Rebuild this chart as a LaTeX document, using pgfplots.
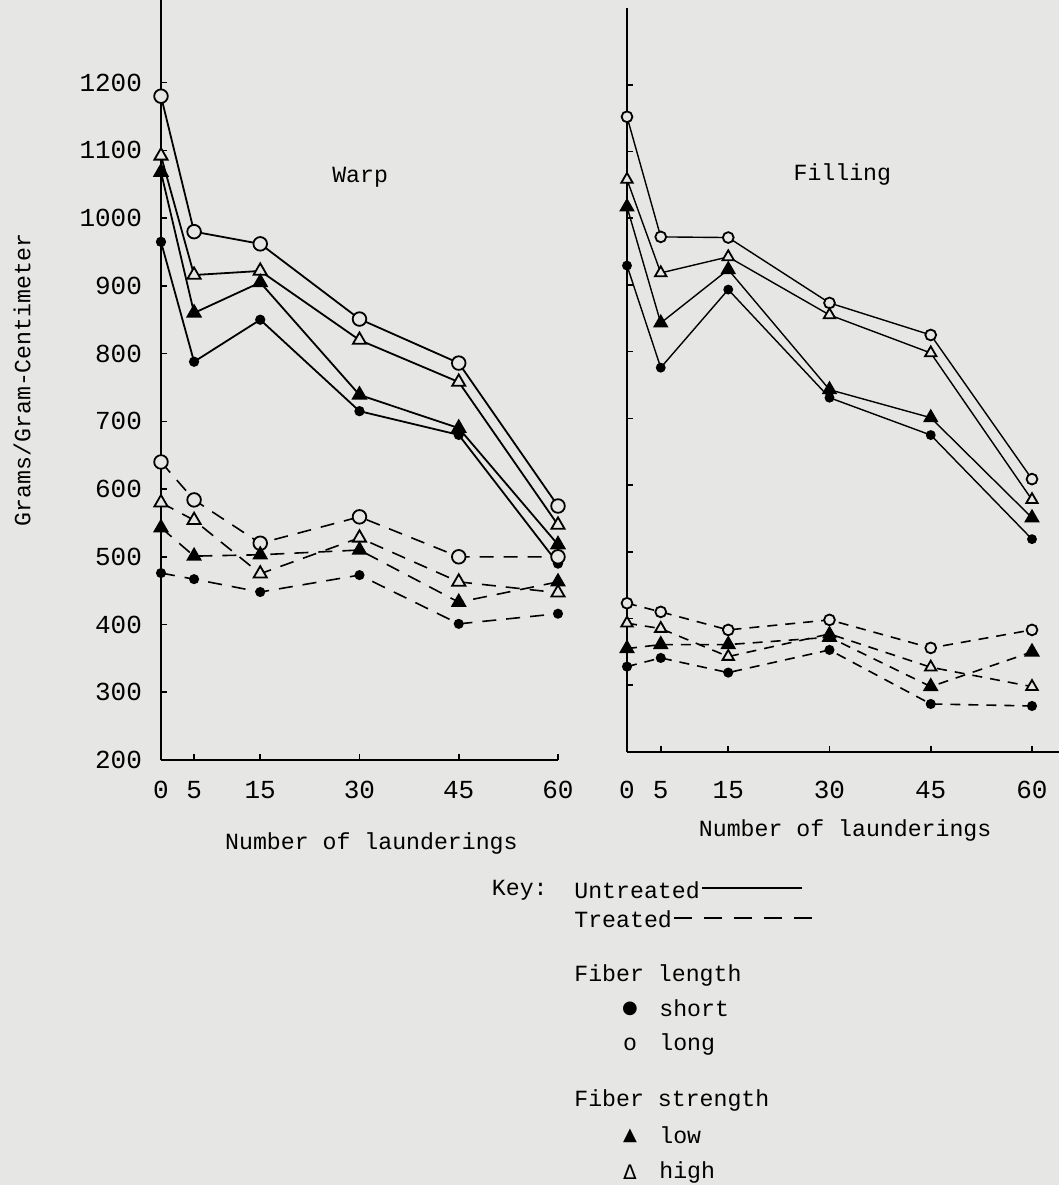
\documentclass[border=0pt]{standalone}
\usepackage{fontspec}
\setmainfont{Liberation Mono}
\newfontfamily\symfont{DejaVu Sans}
\usepackage{pgfplots}
\pgfplotsset{compat=1.18}
\definecolor{paper}{HTML}{E6E6E4}

\pgfplotsset{
  panel/.style={
    scale only axis, axis lines=left,
    axis line style={line width=1.1pt, -},
    tick align=inside, major tick length=3pt,
    tick style={black, line width=0.8pt},
    xtick={0,5,15,30,45,60}, ytick={200,300,...,1200},
    xmin=0, ymin=200,
    /pgf/number format/assume math mode=true,
    /pgf/number format/1000 sep={},
    tick label style={font=\fontsize{13}{15}\selectfont},
    label style={font=\fontsize{11.6}{14}\selectfont},
    clip=false,
  },
  untr/.style={black, line width=0.9pt},
  trt/.style={black, line width=0.8pt, dash pattern=on 7pt off 5pt},
  short/.style={mark=*, mark size=2.1pt, mark options={solid}},
  long/.style={mark=*, mark size=3.4pt, mark options={solid, fill=paper, draw=black, line width=0.9pt}},
  low/.style={mark=triangle*, mark size=3.8pt, mark options={solid}},
  high/.style={mark=triangle*, mark size=3.8pt, mark options={solid, fill=paper, draw=black, line width=0.9pt}},
}

\begin{document}
\begin{tikzpicture}
\fill[paper] (0,0) rectangle (529.5pt,-592.5pt);

% Warp
\begin{axis}[panel, at={(80.5pt,-380pt)}, anchor=south west,
    width=198.5pt, height=380pt, xmax=60, ymax=1322,
    xticklabel style={yshift=-7pt},
    yticklabel style={xshift=-6pt},
    xlabel={Number of launderings},
    xlabel style={at={(axis description cs:0.53,0)}, anchor=center, yshift=-41.5pt},
    ylabel={Grams/Gram-Centimeter},
    ylabel style={at={(axis description cs:-0.35,0.5)}, anchor=center},
]
\addplot[untr, long] coordinates {(0,1180) (5,980) (15,962) (30,851) (45,786) (60,575)};
\addplot[untr, high] coordinates {(0,1092) (5,916) (15,922) (30,820) (45,758) (60,547)};
\addplot[untr, low] coordinates {(0,1068) (5,860) (15,905) (30,739) (45,690) (60,518)};
\addplot[untr, short] coordinates {(0,965) (5,788) (15,850) (30,715) (45,680) (60,490)};
\addplot[trt, long] coordinates {(0,640) (5,584) (15,520) (30,559) (45,500) (60,500)};
\addplot[trt, high] coordinates {(0,580) (5,554) (15,475) (30,528) (45,463) (60,447)};
\addplot[trt, low] coordinates {(0,543) (5,501) (15,503) (30,510) (45,433) (60,463)};
\addplot[trt, short] coordinates {(0,476) (5,467) (15,448) (30,473) (45,401) (60,416)};
\node[font=\fontsize{11.6}{14}\selectfont] at (axis cs:30.1,1060) {Warp};
\end{axis}

% Filling
\begin{axis}[panel, at={(313.5pt,-376pt)}, anchor=south west,
    width=216pt, height=372pt, xmax=64, ymax=1315,
    yticklabels={},
    xticklabel style={yshift=-11pt},
    xlabel={Number of launderings},
    xlabel style={at={(axis description cs:0.505,0)}, anchor=center, yshift=-39pt},
    untr/.append style={line width=0.7pt},
    long/.append style={mark size=2.7pt},
    high/.append style={mark size=3.3pt},
    trt/.append style={dash pattern=on 5pt off 4pt},
]
\addplot[untr, long] coordinates {(0,1152) (5,972) (15,971) (30,873) (45,825) (60,609)};
\addplot[untr, high] coordinates {(0,1058) (5,918) (15,942) (30,855) (45,798) (60,578)};
\addplot[untr, low] coordinates {(0,1017) (5,843) (15,923) (30,743) (45,701) (60,551)};
\addplot[untr, short] coordinates {(0,929) (5,776) (15,893) (30,731) (45,675) (60,519)};
\addplot[trt, long] coordinates {(0,423) (5,410) (15,383) (30,398) (45,356) (60,383)};
\addplot[trt, high] coordinates {(0,393) (5,385) (15,343) (30,377) (45,327) (60,298)};
\addplot[trt, low] coordinates {(0,355) (5,361) (15,361) (30,372) (45,298) (60,350)};
\addplot[trt, short] coordinates {(0,328) (5,341) (15,319) (30,353) (45,272) (60,269)};
\node[font=\fontsize{11.6}{14}\selectfont] at (axis cs:31.9,1065) {Filling};
\end{axis}

% key
\begin{scope}[x=0.5pt, y=-0.5pt, every node/.style={font=\fontsize{11.6}{14}\selectfont, inner sep=0pt}]
\node[anchor=east] at (548,890) {Key:};
\node[anchor=west] at (574,890) {Untreated};
\draw[line width=0.8pt] (702,888) -- (802,888);
\node[anchor=west] at (574,919) {Treated};
\draw[line width=0.8pt, dash pattern=on 9pt off 6pt] (674,918) -- (812,918);
\node[anchor=west] at (574,975) {Fiber length};
\node at (630,1009) {\symfont\fontsize{9}{10}\selectfont ●};
\node[anchor=west] at (659,1008) {short};
\node at (630,1044) {o};
\node[anchor=west] at (659,1044) {long};
\node[anchor=west] at (574,1100) {Fiber strength};
\node at (630,1136) {\symfont\fontsize{9}{10}\selectfont ▲};
\node[anchor=west] at (659,1135) {low};
\node at (630,1172) {\symfont\fontsize{10}{10}\selectfont Δ};
\node[anchor=west] at (659,1172) {high};
\end{scope}

\pgfresetboundingbox
\path[use as bounding box] (0,0) rectangle (529.5pt,-592.5pt);
\end{tikzpicture}
\end{document}
